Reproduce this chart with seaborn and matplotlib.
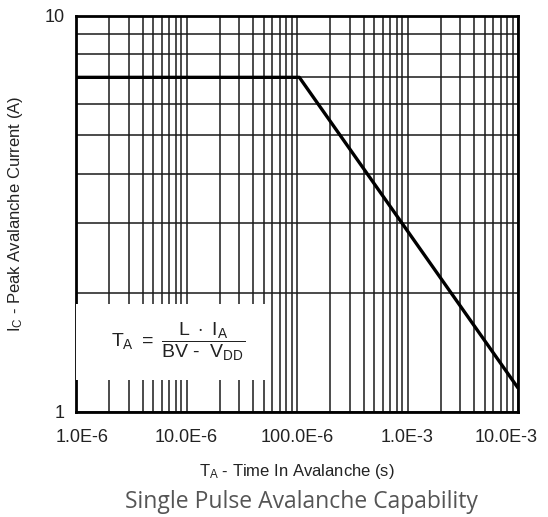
import matplotlib
matplotlib.use("Agg")
import matplotlib.pyplot as plt
import matplotlib.ticker as mticker
import matplotlib.transforms as mtrans
from matplotlib.patches import Rectangle
import seaborn as sns
import pandas as pd

# ---- data ----
time_s = [1.0e-6, 1.05e-4, 1.0e-2]
current_a = [7.0, 7.0, 1.15]
x_ticks = [1e-6, 1e-5, 1e-4, 1e-3, 1e-2]
x_tick_labels = ["1.0E-6", "10.0E-6", "100.0E-6", "1.0E-3", "10.0E-3"]
y_ticks = [1, 10]
y_tick_labels = ["1", "10"]

sns.set_style("white")
plt.rcParams["font.family"] = ["Liberation Sans", "DejaVu Sans"]
plt.rcParams["mathtext.fontset"] = "custom"
plt.rcParams["mathtext.rm"] = "Liberation Sans"
plt.rcParams["mathtext.it"] = "Liberation Sans"
plt.rcParams["mathtext.bf"] = "Liberation Sans:bold"

fig = plt.figure(figsize=(5.48, 5.17), dpi=100)
ax = fig.add_axes([76 / 548, 1 - 412 / 517, (518 - 76) / 548, (412 - 16) / 517])

df = pd.DataFrame({"t": time_s, "i": current_a})
sns.lineplot(data=df, x="t", y="i", color="black", linewidth=2.4, ax=ax, zorder=5)

ax.set_xscale("log")
ax.set_yscale("log")
ax.set_xlim(1e-6, 1e-2)
ax.set_ylim(1, 10)

ax.xaxis.set_major_locator(mticker.FixedLocator(x_ticks))
ax.xaxis.set_major_formatter(mticker.FixedFormatter(x_tick_labels))
ax.xaxis.set_minor_locator(mticker.LogLocator(base=10, subs=range(2, 10), numticks=50))
ax.xaxis.set_minor_formatter(mticker.NullFormatter())
ax.yaxis.set_major_locator(mticker.FixedLocator(y_ticks))
ax.yaxis.set_major_formatter(mticker.FixedFormatter(y_tick_labels))
ax.yaxis.set_minor_locator(mticker.LogLocator(base=10, subs=range(2, 10), numticks=50))
ax.yaxis.set_minor_formatter(mticker.NullFormatter())

ax.grid(which="both", color="#1a1a1a", linewidth=1.1)
ax.set_axisbelow(True)
ax.tick_params(which="both", length=0, labelsize=13, colors="#222222")
ax.tick_params(axis="x", pad=12)
ax.tick_params(axis="y", pad=8)
for s in ax.spines.values():
    s.set_linewidth(2.0)
    s.set_color("black")

ax.set_xlabel("$T_A$ - Time In Avalanche (s)", fontsize=12, color="#222222", labelpad=12)
ax.set_ylabel("$I_C$ - Peak Avalanche Current (A)", fontsize=12, color="#222222", labelpad=14)

# white box behind the formula
ax.add_patch(Rectangle((0.0, (412 - 380) / 396), (266 - 76) / 442, (380 - 304) / 396,
                       transform=ax.transAxes, facecolor="white", edgecolor="none", zorder=3))
ax.text(0.232, 0.178, "$T_A\\ =\\ \\dfrac{L\\ \\cdot\\ I_A}{BV\\ \u2010\\ \\ V_{DD}}$",
        transform=ax.transAxes, ha="center", va="center", fontsize=14, color="#222222", zorder=4)

fig.text(301 / 548, 1 - 502 / 517, "Single Pulse Avalanche Capability",
         ha="center", va="center", fontsize=16.5, color="#555555", family=["Open Sans", "DejaVu Sans"])

# nudge first/last x tick labels like the reference
offs = {0: 6, 4: -12}
for idx, dx in offs.items():
    lab = ax.xaxis.get_major_ticks()[idx].label1
    lab.set_transform(lab.get_transform() + mtrans.ScaledTranslation(dx / 100, 0, fig.dpi_scale_trans))

fig.savefig("out.png", dpi=100)
